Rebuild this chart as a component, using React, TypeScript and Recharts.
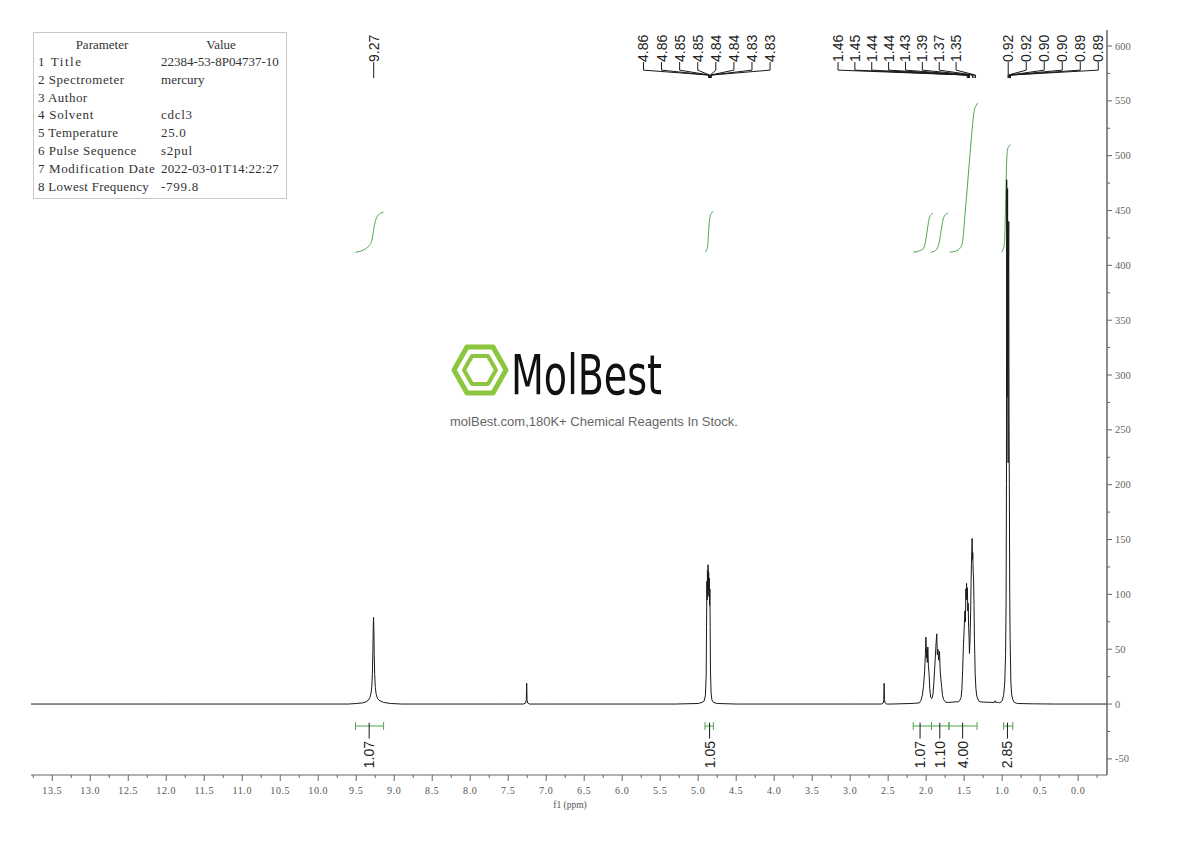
import React from 'react';
import { ComposedChart, Line, Scatter, XAxis, YAxis } from 'recharts';

const X_MIN = -0.38;
const X_MAX = 13.78;
const Y_MIN = -64.7;
const Y_MAX = 614.6;

const GREEN = '#4da64d';
const INK = '#1a1a1a';
const AXIS = '#666';
const SERIF = '"Liberation Serif", "DejaVu Serif", serif';
const SANS = '"Liberation Sans", Arial, sans-serif';

type Pt = [number, number];

// 1H spectrum, (ppm, intensity)
const baseline: Pt[] = [
  [13.78, 0], [12.0, 0], [9.6, 0], [8.9, 0], [7.6, 0], [7.0, 0], [5.3, 0],
  [4.5, 0], [3.0, 0], [2.7, 0], [2.45, 0], [2.2, 0.5],
  [1.62, 2], [1.58, 2], [1.25, 1.8], [1.15, 1.5], [1.10, 1.6], [1.092, 3],
  [1.085, 1.6], [1.05, 1.5], [0.6, 0.2], [0.3, 0], [-0.38, 0],
];
const peak927: Pt[] = [
  [9.50, 0.5], [9.42, 1], [9.37, 2], [9.34, 3.5], [9.32, 6], [9.305, 10],
  [9.295, 16], [9.287, 28], [9.281, 48], [9.276, 70], [9.272, 79], [9.268, 68],
  [9.263, 45], [9.257, 27], [9.249, 15], [9.238, 9], [9.22, 5], [9.19, 3],
  [9.14, 1.5], [9.05, 0.5],
];
const peak726: Pt[] = [
  [7.30, 0], [7.27, 1], [7.262, 4], [7.257, 19], [7.252, 4], [7.245, 1], [7.22, 0],
];
const peak485: Pt[] = [
  [5.0, 0.5], [4.95, 1.5], [4.92, 3], [4.905, 8], [4.895, 25], [4.89, 70],
  [4.885, 112], [4.882, 95], [4.878, 122], [4.874, 100], [4.87, 127],
  [4.866, 105], [4.862, 120], [4.858, 98], [4.854, 115], [4.85, 90],
  [4.846, 105], [4.842, 70], [4.838, 30], [4.83, 10], [4.82, 4], [4.80, 1.5],
  [4.75, 0.5],
];
const peak255: Pt[] = [
  [2.59, 0], [2.565, 1], [2.557, 4], [2.553, 19], [2.549, 4], [2.54, 1], [2.52, 0],
];
const peak200: Pt[] = [
  [2.09, 1], [2.07, 3], [2.05, 8], [2.035, 16], [2.02, 30], [2.01, 45],
  [2.003, 61], [1.995, 42], [1.99, 50], [1.985, 38], [1.978, 52], [1.97, 35],
  [1.962, 28], [1.952, 14], [1.94, 6],
];
const peak184: Pt[] = [
  [1.925, 5], [1.91, 9], [1.90, 18], [1.89, 30], [1.88, 42], [1.87, 55],
  [1.86, 64], [1.853, 45], [1.845, 50], [1.835, 40], [1.825, 48], [1.815, 30],
  [1.805, 22], [1.795, 15], [1.785, 8], [1.77, 4], [1.74, 1.5], [1.70, 1.5],
];
const peak140: Pt[] = [
  [1.56, 3], [1.54, 6], [1.53, 13], [1.52, 30], [1.51, 52], [1.50, 68],
  [1.49, 85], [1.483, 75], [1.477, 105], [1.472, 95], [1.468, 110],
  [1.463, 98], [1.458, 106], [1.452, 85], [1.447, 92], [1.441, 70],
  [1.436, 62], [1.43, 46], [1.425, 55], [1.419, 68], [1.414, 85], [1.409, 110],
  [1.404, 128], [1.399, 140], [1.395, 151], [1.39, 132], [1.386, 138],
  [1.381, 120], [1.376, 115], [1.37, 90], [1.365, 61], [1.36, 45],
  [1.355, 28], [1.345, 14], [1.333, 7], [1.31, 3], [1.29, 2],
];
const peak090: Pt[] = [
  [1.03, 1], [1.00, 3], [0.98, 8], [0.965, 20], [0.955, 45], [0.948, 90],
  [0.943, 200], [0.94, 478], [0.937, 400], [0.934, 280], [0.931, 380],
  [0.928, 470], [0.925, 300], [0.921, 220], [0.917, 390], [0.913, 440],
  [0.909, 260], [0.905, 200], [0.90, 100], [0.895, 60], [0.885, 20],
  [0.875, 9], [0.86, 4], [0.84, 1.5], [0.80, 0.5],
];

// integral curves
const integ927: Pt[] = [
  [9.51, 412], [9.44, 413], [9.38, 415], [9.33, 418], [9.29, 424], [9.27, 433],
  [9.245, 441], [9.22, 445], [9.18, 447.5], [9.14, 448.5],
];
const integ485: Pt[] = [
  [4.91, 412], [4.89, 414], [4.875, 418], [4.865, 428], [4.855, 438],
  [4.845, 444], [4.83, 447], [4.815, 448.5], [4.80, 449],
];
const integ200: Pt[] = [
  [2.17, 412], [2.10, 413], [2.04, 415], [2.01, 421], [1.99, 430], [1.97, 439],
  [1.955, 444], [1.93, 446.5], [1.91, 447.5],
];
const integ184: Pt[] = [
  [1.94, 412], [1.89, 413], [1.85, 416], [1.82, 424], [1.80, 433], [1.78, 441],
  [1.76, 445], [1.73, 447], [1.71, 448],
];
const integ140: Pt[] = [
  [1.69, 412], [1.61, 413], [1.55, 416], [1.52, 422], [1.49, 445], [1.46, 470],
  [1.43, 495], [1.40, 520], [1.37, 540], [1.34, 546], [1.32, 548],
];
const integ090: Pt[] = [
  [1.01, 412], [0.99, 414], [0.97, 420], [0.96, 440], [0.95, 470], [0.94, 495],
  [0.93, 505], [0.91, 509], [0.89, 510],
];

// integration brackets under the baseline
const integRanges: Pt[] = [
  [9.51, 9.14], [4.91, 4.80], [2.17, 1.93], [1.93, 1.70], [1.70, 1.33], [0.98, 0.86],
];
const integLabels = ['1.07', '1.05', '1.07', '1.10', '4.00', '2.85'];
const integLabelPpm = [9.33, 4.85, 2.08, 1.82, 1.52, 0.93];

// peak picking labels
const shifts927 = ['9.27'];
const shifts485 = ['4.86', '4.86', '4.85', '4.85', '4.84', '4.84', '4.83', '4.83'];
const shifts140 = ['1.46', '1.45', '1.44', '1.44', '1.43', '1.39', '1.37', '1.35'];
const shifts090 = ['0.92', '0.92', '0.90', '0.90', '0.89', '0.89'];

const labelGroups = [
  { shifts: shifts927, first: 9.27, step: 0 },
  { shifts: shifts485, first: 5.72, step: 0.238 },
  { shifts: shifts140, first: 3.16, step: 0.222 },
  { shifts: shifts090, first: 0.92, step: 0.237 },
];

const xMajor = [13.5, 13, 12.5, 12, 11.5, 11, 10.5, 10, 9.5, 9, 8.5, 8, 7.5, 7, 6.5, 6, 5.5, 5, 4.5, 4, 3.5, 3, 2.5, 2, 1.5, 1, 0.5, 0];
const xMinor = [13.75, 13.25, 12.75, 12.25, 11.75, 11.25, 10.75, 10.25, 9.75, 9.25, 8.75, 8.25, 7.75, 7.25, 6.75, 6.25, 5.75, 5.25, 4.75, 4.25, 3.75, 3.25, 2.75, 2.25, 1.75, 1.25, 0.75, 0.25, -0.25];
const yMajor = [-50, 0, 50, 100, 150, 200, 250, 300, 350, 400, 450, 500, 550, 600];
const yMinor = [-25, 25, 75, 125, 175, 225, 275, 325, 375, 425, 475, 525, 575];

const params: [string, string][] = [
  ['1 Title', '22384-53-8P04737-10'],
  ['2 Spectrometer', 'mercury'],
  ['3 Author', ''],
  ['4 Solvent', 'cdcl3'],
  ['5 Temperature', '25.0'],
  ['6 Pulse Sequence', 's2pul'],
  ['7 Modification Date', '2022-03-01T14:22:27'],
  ['8 Lowest Frequency', '-799.8'],
];

const toXY = (pts: Pt[]) => pts.map(([x, y]) => ({ x, y }));

const spectrum = toXY(
  [...baseline, ...peak927, ...peak726, ...peak485, ...peak255, ...peak200, ...peak184, ...peak140, ...peak090]
    .sort((a, b) => b[0] - a[0])
);
const integrals = [integ927, integ485, integ200, integ184, integ140, integ090].map(toXY);

// label / connector levels in intensity units
const TXT_Y = 585.4;
const STUB_Y = 578;
const JOIN_Y = 573.5;
const TIP_Y = 570.8;

const peakTexts: { x: number; y: number; text: string }[] = [];
const connectors: { x: number; y: number }[][] = [];
labelGroups.forEach((g) => {
  g.shifts.forEach((s, i) => {
    const lx = g.first - i * g.step;
    const px = parseFloat(s);
    peakTexts.push({ x: lx, y: TXT_Y, text: s });
    connectors.push(
      g.step === 0
        ? [{ x: px, y: TXT_Y }, { x: px, y: TIP_Y }]
        : [{ x: lx, y: TXT_Y }, { x: lx, y: STUB_Y }, { x: px, y: JOIN_Y }, { x: px, y: TIP_Y }]
    );
  });
});

const BR_Y = -20;
const bracketLines: { x: number; y: number }[][] = [];
const bracketTicks: { x: number; y: number }[][] = [];
integRanges.forEach(([a, b], i) => {
  bracketLines.push([{ x: a, y: BR_Y }, { x: b, y: BR_Y }]);
  bracketLines.push([{ x: a, y: -16.4 }, { x: a, y: -23.7 }]);
  bracketLines.push([{ x: b, y: -16.4 }, { x: b, y: -23.7 }]);
  bracketTicks.push([{ x: integLabelPpm[i], y: -17 }, { x: integLabelPpm[i], y: -31.5 }]);
});
const integTexts = integLabels.map((t, i) => ({ x: integLabelPpm[i], y: -33.7, text: t }));

const renderXTick = (props: any) => {
  const { x, y, payload } = props;
  const v = payload.value as number;
  const major = xMajor.includes(v);
  return (
    <g>
      <line x1={x} x2={x} y1={y} y2={y + (major ? 6 : 3)} stroke={AXIS} />
      {major && (
        <text x={x} y={y + 15} textAnchor="middle" dominantBaseline="central"
          fontFamily={SERIF} fontSize={10} fill="#555" letterSpacing={0.6}>
          {v.toFixed(1)}
        </text>
      )}
    </g>
  );
};

const renderYTick = (props: any) => {
  const { x, y, payload } = props;
  const v = payload.value as number;
  const major = yMajor.includes(v);
  return (
    <g>
      <line x1={x} x2={x + (major ? 5 : 3)} y1={y} y2={y} stroke={AXIS} />
      {major && (
        <text x={x + 8} y={y} dominantBaseline="central"
          fontFamily={SERIF} fontSize={10.5} fill="#666">
          {v}
        </text>
      )}
    </g>
  );
};

const PeakText = (p: any) => (
  <text x={p.cx} y={p.cy} transform={`rotate(-90 ${p.cx} ${p.cy})`} textAnchor="start"
    dominantBaseline="central" fontFamily={SANS} fontSize={14} fill="#222">
    {p.payload.text}
  </text>
);

const IntegText = (p: any) => (
  <text x={p.cx} y={p.cy} transform={`rotate(-90 ${p.cx} ${p.cy})`} textAnchor="end"
    dominantBaseline="central" fontFamily={SANS} fontSize={14} fill="#222">
    {p.payload.text}
  </text>
);

function Overlay() {
  const rowY = [61.5, 79.3, 97.1, 114.9, 132.7, 150.5, 168.3, 186.1];
  return (
    <svg width={1190} height={841} style={{ position: 'absolute', left: 0, top: 0, pointerEvents: 'none' }}>
      <rect x={33.5} y={32.5} width={253} height={166} fill="#fff" stroke="#c8c8c8" />
      <g fontFamily={SERIF} fontSize={13} fill="#333" dominantBaseline="central">
        <text x={102} y={44} textAnchor="middle">Parameter</text>
        <text x={221} y={44} textAnchor="middle">Value</text>
        {params.map(([k, v], i) => (
          <g key={k}>
            <text x={38} y={rowY[i]} textLength={k.length * 6.15} lengthAdjust="spacing">{k}</text>
            {v && <text x={161} y={rowY[i]} textLength={v.length * 6.2} lengthAdjust="spacing">{v}</text>}
          </g>
        ))}
      </g>
      <g fill="none" stroke="#8cc63f" strokeLinejoin="round">
        <polygon points="454,370 467,347 493,347 506,370 493,393 467,393" strokeWidth={5} />
        <polygon points="464,370 472,356 488,356 496,370 488,384 472,384" strokeWidth={4} />
      </g>
      <text x={511} y={394} fontFamily={'"Liberation Sans Narrow", "DejaVu Sans Condensed", sans-serif'}
        fontSize={56} fill="#111" textLength={151} lengthAdjust="spacingAndGlyphs">MolBest</text>
      <text x={594} y={426} textAnchor="middle" fontFamily={SANS} fontSize={13} fill="#666">
        molBest.com,180K+ Chemical Reagents In Stock.
      </text>
      <text x={570} y={805} textAnchor="middle" dominantBaseline="central" fontFamily={SERIF}
        fontSize={9.5} fill="#555">f1 (ppm)</text>
    </svg>
  );
}

export default function App() {
  return (
    <div style={{ position: 'absolute', left: 0, top: 0, width: 1190, height: 841, background: '#fff' }}>
      <ComposedChart width={1190} height={841} margin={{ top: 30, left: 31, right: 23, bottom: 26 }}>
        <XAxis type="number" dataKey="x" domain={[X_MIN, X_MAX]} reversed allowDataOverflow
          ticks={[...xMajor, ...xMinor].sort((a, b) => b - a)} interval={0} tickSize={0} tickMargin={0}
          tick={renderXTick} height={40} axisLine={{ stroke: AXIS }} tickLine={false} />
        <YAxis type="number" dataKey="y" orientation="right" domain={[Y_MIN, Y_MAX]} allowDataOverflow
          ticks={[...yMajor, ...yMinor].sort((a, b) => a - b)} interval={0} tickSize={0} tickMargin={0}
          tick={renderYTick} width={60} axisLine={{ stroke: AXIS, strokeWidth: 1.5 }} tickLine={false} />
        {integrals.map((d, i) => (
          <Line key={`int${i}`} data={d} dataKey="y" type="monotone" stroke={GREEN} strokeWidth={1}
            dot={false} isAnimationActive={false} />
        ))}
        {bracketLines.map((d, i) => (
          <Line key={`br${i}`} data={d} dataKey="y" type="linear" stroke={GREEN} strokeWidth={1}
            dot={false} isAnimationActive={false} />
        ))}
        {bracketTicks.map((d, i) => (
          <Line key={`bt${i}`} data={d} dataKey="y" type="linear" stroke={INK} strokeWidth={1}
            dot={false} isAnimationActive={false} />
        ))}
        {connectors.map((d, i) => (
          <Line key={`cn${i}`} data={d} dataKey="y" type="linear" stroke={INK} strokeWidth={1}
            dot={false} isAnimationActive={false} />
        ))}
        <Line data={spectrum} dataKey="y" type="linear" stroke={INK} strokeWidth={1}
          dot={false} isAnimationActive={false} />
        <Scatter data={peakTexts} dataKey="y" shape={PeakText} isAnimationActive={false} />
        <Scatter data={integTexts} dataKey="y" shape={IntegText} isAnimationActive={false} />
      </ComposedChart>
      <Overlay />
    </div>
  );
}
